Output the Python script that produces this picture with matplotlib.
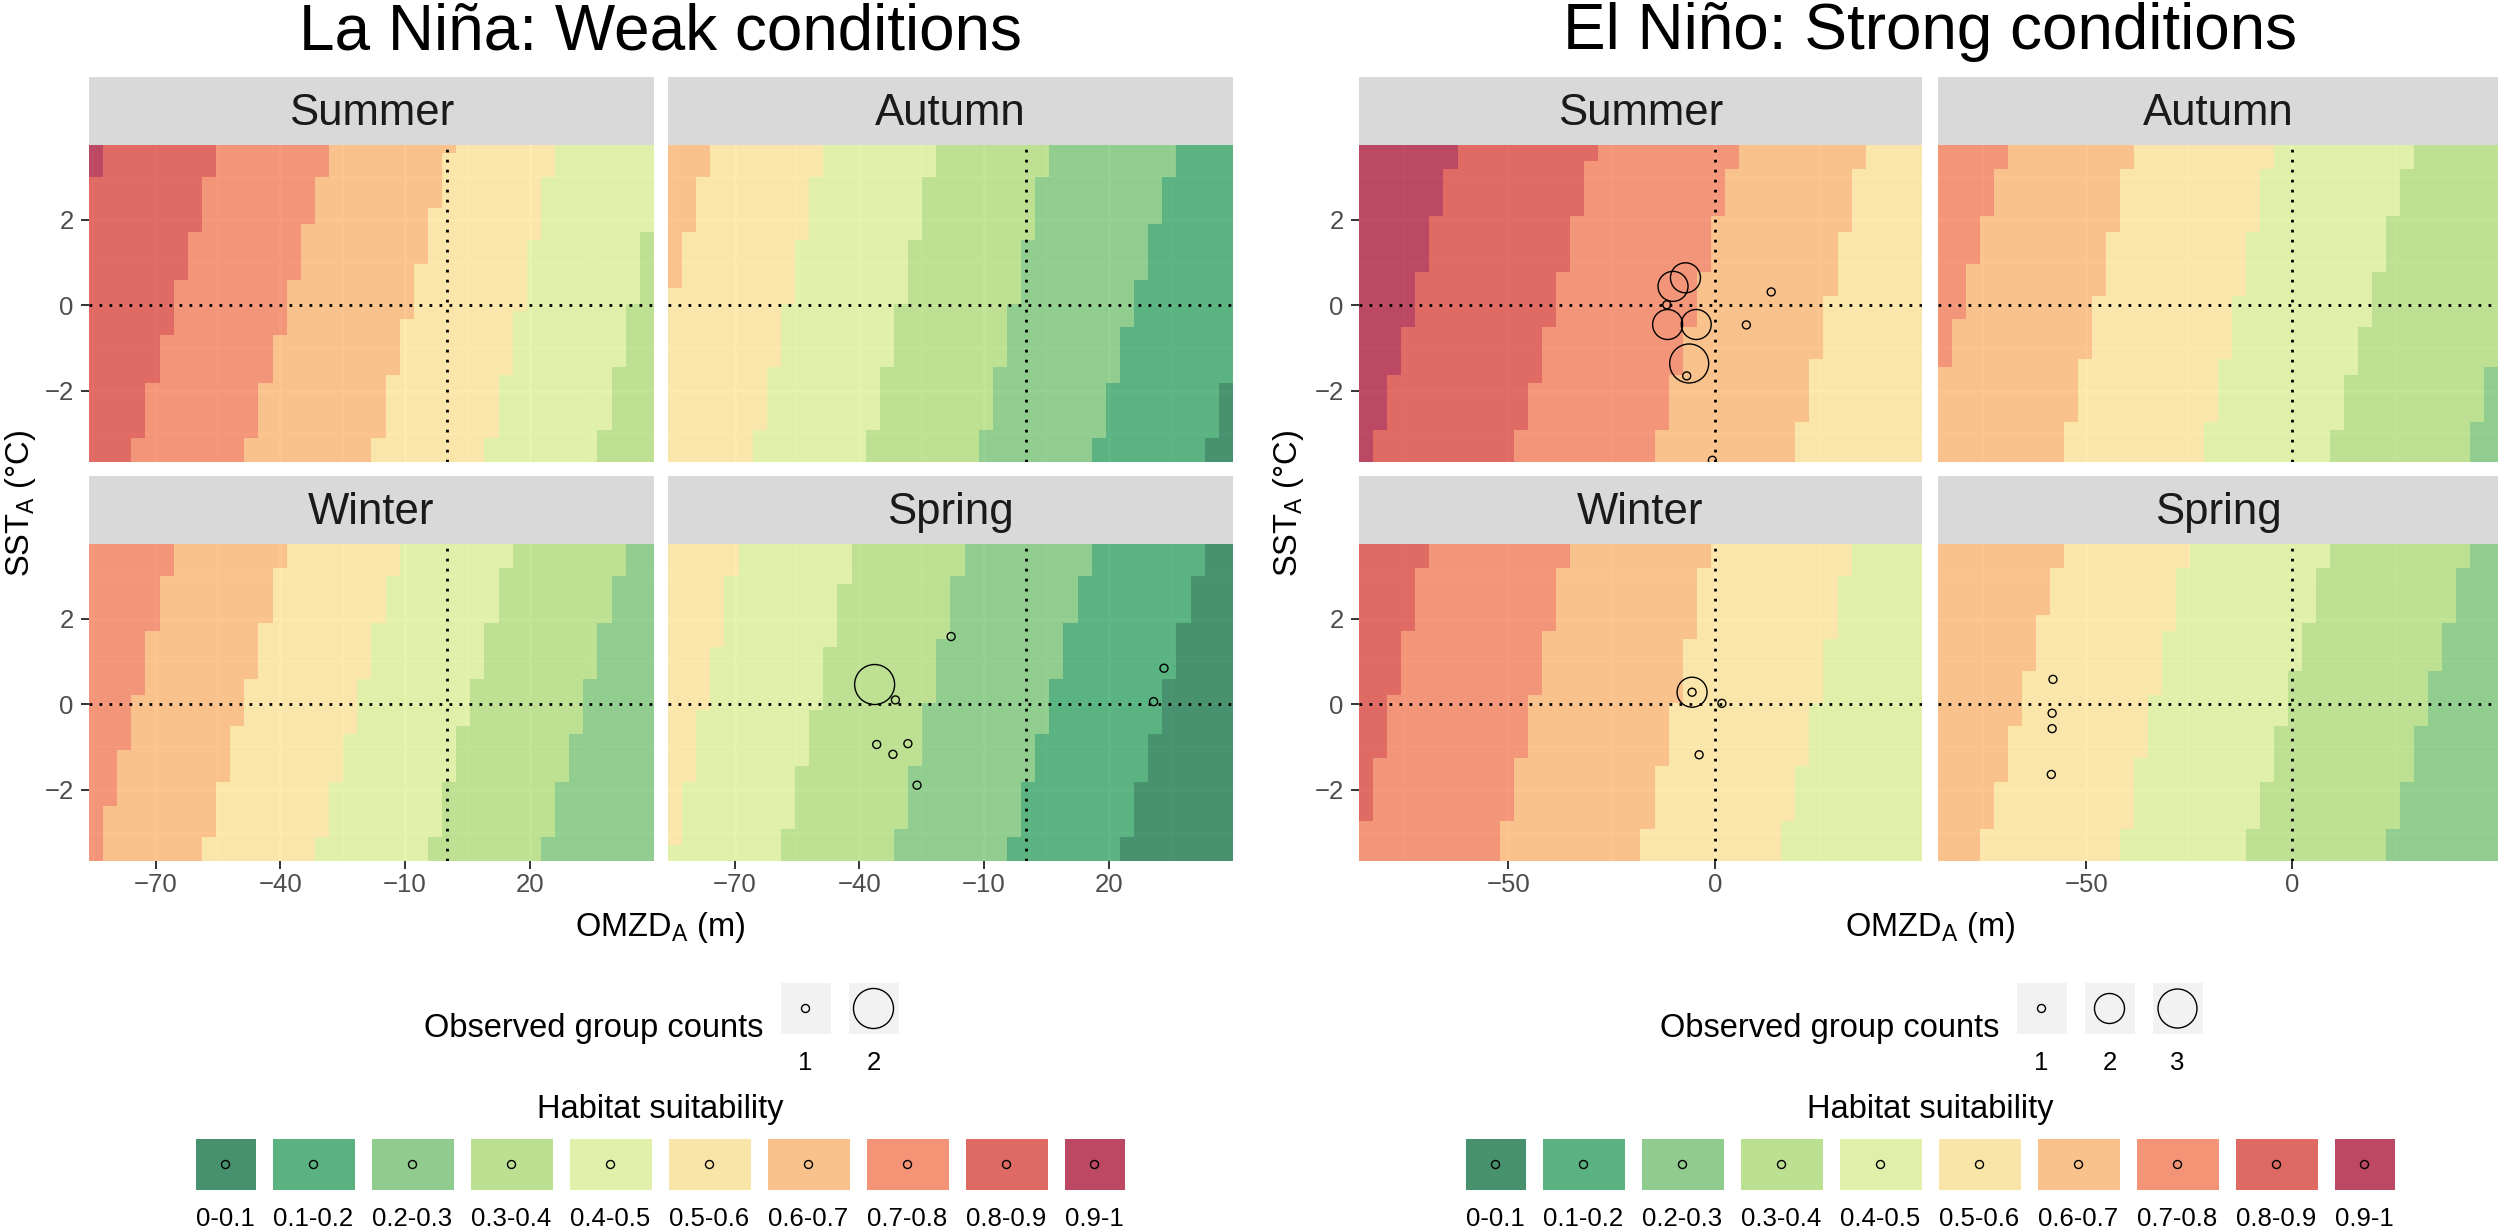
import numpy as np
import matplotlib
matplotlib.use('Agg')
import matplotlib.pyplot as plt
from matplotlib.colors import ListedColormap
from matplotlib.patches import Rectangle

plt.rcParams['font.family'] = ['Liberation Sans', 'DejaVu Sans']
plt.rcParams['mathtext.fontset'] = 'custom'
plt.rcParams['mathtext.rm'] = 'Liberation Sans'
plt.rcParams['mathtext.default'] = 'regular'

W, H = 2500, 1228

class_labels = ['0-0.1', '0.1-0.2', '0.2-0.3', '0.3-0.4', '0.4-0.5',
                '0.5-0.6', '0.6-0.7', '0.7-0.8', '0.8-0.9', '0.9-1']
class_colors = ['#006837', '#1a9850', '#66bd63', '#a6d96a', '#d9ef8b',
                '#fee08b', '#fdae61', '#f46d43', '#d73027', '#a50026']

seasons = ['Summer', 'Autumn', 'Winter', 'Spring']

# axis extent of every facet
X_MIN, X_MAX = -86.0, 49.9
Y_MIN, Y_MAX = -3.66, 3.74
N_TILES = 40

# class boundaries (OMZD_A, m) read at the top and bottom edge of each facet,
# left to right; *_hi is the class index on the far left
lanina_summer_hi = 9
lanina_summer_top = [-82.4, -55.1, -28.1, 1.2, 26.3, 53.0]
lanina_summer_bot = [-104.0, -75.7, -48.5, -18.0, 9.4, 36.3]
lanina_autumn_hi = 6
lanina_autumn_top = [-75.6, -48.5, -21.3, 5.7, 36.4, 62.6]
lanina_autumn_bot = [-95.0, -65.4, -38.3, -11.1, 16.0, 43.2]
lanina_winter_hi = 7
lanina_winter_top = [-65.5, -38.5, -11.0, 16.0, 43.3, 75.0]
lanina_winter_bot = [-84.0, -58.7, -31.5, -4.4, 22.8, 55.0]
lanina_spring_hi = 5
lanina_spring_top = [-69.0, -41.5, -14.5, 16.2, 43.2]
lanina_spring_bot = [-85.0, -58.7, -31.5, -4.4, 22.8]

elnino_summer_hi = 9
elnino_summer_top = [-62.5, -28.7, 5.4, 36.0, 70.0]
elnino_summer_bot = [-82.9, -48.8, -15.0, 19.0, 52.0]
elnino_autumn_hi = 7
elnino_autumn_top = [-69.3, -38.8, -4.8, 29.2, 62.0]
elnino_autumn_bot = [-90.7, -55.8, -21.8, 8.8, 42.6]
elnino_winter_hi = 8
elnino_winter_top = [-69.5, -35.5, -1.3, 32.8, 65.0]
elnino_winter_bot = [-86.5, -52.4, -18.2, 15.7, 48.0]
elnino_spring_hi = 6
elnino_spring_top = [-55.8, -25.3, 8.9, 42.9, 80.0]
elnino_spring_bot = [-76.0, -42.0, -11.5, 22.5, 60.0]

# observed groups
lanina_spring_px = [-17.9, -36.3, -31.3, -35.8, -31.9, -28.3, -26.1, 33.3, 30.8]
lanina_spring_py = [1.58, 0.46, 0.10, -0.94, -1.17, -0.92, -1.89, 0.84, 0.06]
lanina_spring_n = [1, 2, 1, 1, 1, 1, 1, 1, 1]

elnino_summer_px = [-7.2, -10.2, -11.7, -11.5, -4.6, -6.3, -6.9, 13.5, 7.5, -0.7]
elnino_summer_py = [0.64, 0.44, 0.01, -0.45, -0.45, -1.36, -1.65, 0.31, -0.46, -3.62]
elnino_summer_n = [2, 2, 1, 2, 2, 3, 1, 1, 1, 1]
elnino_winter_px = [-5.6, -5.6, 1.6, -3.9]
elnino_winter_py = [0.28, 0.28, 0.02, -1.18]
elnino_winter_n = [2, 1, 1, 1]
elnino_spring_px = [-58.1, -58.3, -58.3, -58.5]
elnino_spring_py = [0.58, -0.21, -0.57, -1.64]
elnino_spring_n = [1, 1, 1, 1]

lanina_counts = [1, 2]
elnino_counts = [1, 2, 3]

panels = [
    {
        'title': 'La Niña: Weak conditions',
        'cols': [(89, 654), (668, 1233)],
        'center': 660,
        'ylab_x': 20,
        'xticks': [-70, -40, -10, 20],
        'xminor': [-85, -55, -25, 5, 35],
        'counts': lanina_counts,
        'diam': {1: 8, 2: 40},
        'facets': {
            'Summer': (lanina_summer_hi, lanina_summer_top, lanina_summer_bot, None),
            'Autumn': (lanina_autumn_hi, lanina_autumn_top, lanina_autumn_bot, None),
            'Winter': (lanina_winter_hi, lanina_winter_top, lanina_winter_bot, None),
            'Spring': (lanina_spring_hi, lanina_spring_top, lanina_spring_bot,
                       (lanina_spring_px, lanina_spring_py, lanina_spring_n)),
        },
    },
    {
        'title': 'El Niño: Strong conditions',
        'cols': [(1359, 1922), (1938, 2498)],
        'center': 1930,
        'ylab_x': 1288,
        'xticks': [-50, 0],
        'xminor': [-75, -25, 25],
        'counts': elnino_counts,
        'diam': {1: 8, 2: 30, 3: 39},
        'facets': {
            'Summer': (elnino_summer_hi, elnino_summer_top, elnino_summer_bot,
                       (elnino_summer_px, elnino_summer_py, elnino_summer_n)),
            'Autumn': (elnino_autumn_hi, elnino_autumn_top, elnino_autumn_bot, None),
            'Winter': (elnino_winter_hi, elnino_winter_top, elnino_winter_bot,
                       (elnino_winter_px, elnino_winter_py, elnino_winter_n)),
            'Spring': (elnino_spring_hi, elnino_spring_top, elnino_spring_bot,
                       (elnino_spring_px, elnino_spring_py, elnino_spring_n)),
        },
    },
]

rows = [(145, 462), (544, 861)]
strip_rows = [(77, 145), (476, 544)]

cmap = ListedColormap(class_colors)
x_edges = np.linspace(X_MIN, X_MAX, N_TILES + 1)
y_edges = np.linspace(Y_MIN, Y_MAX, N_TILES + 1)


def box(x0, y0, x1, y1):
    return [x0 / W, 1 - y1 / H, (x1 - x0) / W, (y1 - y0) / H]


def class_grid(hi, top, bot):
    xc = (x_edges[:-1] + x_edges[1:]) / 2
    yc = (y_edges[:-1] + y_edges[1:]) / 2
    X, Y = np.meshgrid(xc, yc)
    frac = (Y - Y_MIN) / (Y_MAX - Y_MIN)
    cls = np.full(X.shape, hi)
    for t, b in zip(top, bot):
        cls = cls - (X > b + (t - b) * frac)
    return cls


def pt_size(d_px):
    return (d_px * 0.72) ** 2


fig = plt.figure(figsize=(W / 100, H / 100), dpi=100)

for p in panels:
    for k, season in enumerate(seasons):
        r, c = divmod(k, 2)
        x0, x1 = p['cols'][c]
        y0, y1 = rows[r]
        ax = fig.add_axes(box(x0, y0, x1, y1))
        hi, top, bot, pts = p['facets'][season]
        ax.imshow(class_grid(hi, top, bot), origin='lower', cmap=cmap, vmin=-0.5, vmax=9.5,
                  extent=[X_MIN, X_MAX, Y_MIN, Y_MAX], aspect='auto', alpha=0.7,
                  interpolation='nearest', zorder=1)
        ax.axhline(0, color='black', lw=2.0, ls=(0, (1, 2.6)), zorder=2)
        ax.axvline(0, color='black', lw=2.0, ls=(0, (1, 2.6)), zorder=2)
        if pts is not None:
            px, py, pn = pts
            ax.scatter(px, py, s=[pt_size(p['diam'][n]) for n in pn], facecolors='none',
                       edgecolors='black', linewidths=1.0, zorder=3)
        ax.set_xlim(X_MIN, X_MAX)
        ax.set_ylim(Y_MIN, Y_MAX)
        ax.set_facecolor('#F3F3F3')
        for s in ax.spines.values():
            s.set_visible(False)
        ax.set_xticks(p['xticks'])
        ax.set_xticks(p['xminor'], minor=True)
        ax.set_yticks([-2, 0, 2])
        ax.set_yticks([-3, -1, 1, 3], minor=True)
        ax.set_axisbelow(True)
        ax.grid(which='major', color='white', lw=2.2)
        ax.grid(which='minor', color='white', lw=1.1)
        ax.tick_params(which='minor', length=0)
        ax.tick_params(which='major', length=6, width=1.4, color='#333333',
                       labelsize=18.5, labelcolor='#4D4D4D')
        ax.tick_params(axis='x', pad=3)
        ax.tick_params(axis='y', pad=5)
        if r == 0:
            ax.tick_params(axis='x', length=0, labelbottom=False)
        if c == 1:
            ax.tick_params(axis='y', length=0, labelleft=False)

        sy0, sy1 = strip_rows[r]
        sax = fig.add_axes(box(x0, sy0, x1, sy1))
        sax.set_facecolor('#D9D9D9')
        sax.set_xticks([])
        sax.set_yticks([])
        for s in sax.spines.values():
            s.set_visible(False)
        sax.text(0.5, 0.47, season, ha='center', va='center', fontsize=31.5,
                 color='#1A1A1A', transform=sax.transAxes)

# overlay in pixel coordinates for titles and legends
lax = fig.add_axes([0, 0, 1, 1])
lax.set_xlim(0, W)
lax.set_ylim(H, 0)
lax.axis('off')

for p in panels:
    cx = p['center']
    lax.text(cx, 49, p['title'], ha='center', va='baseline', fontsize=46)
    lax.text(cx, 936, r'OMZD$_{\mathregular{A}}$ (m)', ha='center', va='baseline', fontsize=23.5)
    lax.text(p['ylab_x'], 503, r'SST$_{\mathregular{A}}$ (°C)', ha='center', va='center',
             rotation=90, fontsize=23.5)

    # size legend
    counts = p['counts']
    n = len(counts)
    title_w = 342
    total = title_w + 17 + n * 50 + (n - 1) * 18
    sx = cx - total / 2 + title_w
    lax.text(sx, 1037, 'Observed group counts', ha='right', va='baseline', fontsize=23.5)
    for i, cnt in enumerate(counts):
        kx = sx + 17 + i * 68
        lax.add_patch(Rectangle((kx, 983), 50, 51, facecolor='#F2F2F2', edgecolor='none'))
        lax.scatter([kx + 25], [1008.5], s=pt_size(p['diam'][cnt]), facecolors='none',
                    edgecolors='black', linewidths=1.0, zorder=3)
        lax.text(kx + 25, 1070, str(cnt), ha='center', va='baseline', fontsize=18.5)

    # habitat suitability legend
    lax.text(cx, 1118, 'Habitat suitability', ha='center', va='baseline', fontsize=23.5)
    key_w = [60, 82, 82, 82, 82, 82, 82, 82, 82, 60]
    kx = cx - (sum(key_w) + 17 * (len(key_w) - 1)) / 2
    for lab, col, kw in zip(class_labels, class_colors, key_w):
        lax.add_patch(Rectangle((kx, 1139), kw, 51, facecolor='#F2F2F2', edgecolor='none'))
        lax.add_patch(Rectangle((kx, 1139), kw, 51, facecolor=col, alpha=0.7, edgecolor='none'))
        lax.scatter([kx + kw / 2], [1164.5], s=pt_size(8), facecolors='none',
                    edgecolors='black', linewidths=1.0, zorder=3)
        lax.text(kx + kw / 2, 1226, lab, ha='center', va='baseline', fontsize=18.5)
        kx += kw + 17

fig.savefig('out.png', dpi=100)
